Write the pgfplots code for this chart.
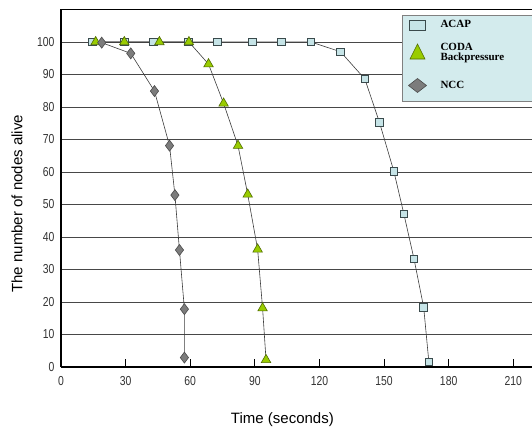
\documentclass[border=0pt]{standalone}
\usepackage{fontspec}
\setmainfont{Liberation Sans}
\newfontfamily\tickfont[FakeStretch=0.8]{Liberation Sans}
\newfontfamily\legfont{Liberation Serif}
\usepackage{pgfplots}
\pgfplotsset{compat=1.18}
\definecolor{sqfill}{HTML}{C6E4E7}
\definecolor{sqedge}{HTML}{3A4A4C}
\definecolor{trifill}{HTML}{99CC00}
\definecolor{triedge}{HTML}{4F6A00}
\definecolor{dmfill}{HTML}{7C7C7C}
\definecolor{dmedge}{HTML}{4A4A4A}
\definecolor{legfill}{HTML}{D3EBED}
\definecolor{linec}{HTML}{3C3C3C}
\begin{document}
\begin{tikzpicture}
\begin{axis}[
  scale only axis, width=471bp, height=357.5bp,
  xmin=0, xmax=218.7, ymin=0, ymax=110,
  axis lines*=left,
  axis line style={-, line width=1.6bp, black},
  xtick={0,30,...,210}, ytick={0,10,...,100},
  tick align=inside,
  major tick length=8bp,
  xtick style={line width=0.9bp, black},
  ytick style={draw=none},
  ymajorgrids,
  grid style={line width=0.9bp, black!72},
  /pgf/number format/assume math mode=true,
  ticklabel style={font=\tickfont\fontsize{13bp}{13bp}\selectfont, text=black!80},
  xticklabel style={yshift=-6bp},
  yticklabel style={xshift=-3bp},
  xlabel={Time (seconds)},
  xlabel style={at={(axis cs:102.8,-16.3)}, anchor=center, font=\fontsize{15bp}{15bp}\selectfont},
  ylabel={The number of nodes alive},
  ylabel style={at={(axis cs:-20.4,50.2)}, anchor=center, font=\fontsize{15bp}{15bp}\selectfont},
  clip=false,
  legend style={at={(rel axis cs:1,0.9846)}, anchor=north east,
    draw=black!50, line width=0.8bp, fill=legfill,
    inner sep=0pt, outer sep=0pt, column sep=0pt, row sep=0pt,
    nodes={inner sep=0pt, draw=none, fill=none},
    font=\legfont\bfseries\fontsize{11bp}{10bp}\selectfont},
  legend cell align=left,
]
\addplot[linec, line width=0.6bp, mark=square*, mark size=3.8bp,
  mark options={fill=sqfill, draw=sqedge, line width=0.8bp},
  legend image code/.code={
    \path[draw=none, fill=none] (-14.7bp,-10bp) rectangle (23bp,10bp);
    \draw[fill=sqfill, draw=sqedge, line width=0.8bp] (-8bp,-5bp) rectangle (8bp,5bp);}]
coordinates {(14.6,100) (29.3,100) (42.9,100) (59.2,100) (72.7,100) (89,100) (102.3,100) (116.1,100) (129.8,97) (141.1,88.6) (147.9,75.2) (154.6,60.1) (159.2,47.1) (163.9,33.3) (168.4,18.4) (170.8,1.6)};
\addlegendentry{\makebox[91.5bp][l]{ACAP}}
\addplot[linec, line width=0.6bp, mark=triangle*, mark size=5.5bp,
  mark options={fill=trifill, draw=triedge, line width=0.6bp},
  legend image code/.code={
    \path[draw=none, fill=none] (-14.7bp,-17.5bp) rectangle (23bp,17.5bp);
    \draw[fill=trifill, draw=triedge, line width=0.6bp] (-7.5bp,-6.5bp) -- (7.5bp,-6.5bp) -- (0bp,8.5bp) -- cycle;}]
coordinates {(16.1,100) (29.4,100) (45.7,100) (59.4,100) (68.5,93.2) (75.5,81.1) (82.2,68.1) (86.7,53.1) (91.3,36.2) (93.6,18.1) (95.2,2.2)};
\addlegendentry{\makebox[91.5bp][l]{\shortstack[l]{CODA\\Backpressure}}}
\addplot[linec, line width=0.6bp, mark=diamond*, mark size=5.5bp,
  mark options={fill=dmfill, draw=dmedge, line width=0.6bp},
  legend image code/.code={
    \path[draw=none, fill=none] (-14.7bp,-15.5bp) rectangle (23bp,15.5bp);
    \draw[fill=dmfill, draw=dmedge, line width=0.6bp] (-9bp,0bp) -- (0bp,7bp) -- (9bp,0bp) -- (0bp,-7bp) -- cycle;}]
coordinates {(18.9,99.8) (32.4,96.5) (43.4,84.9) (50.4,68.1) (52.9,52.9) (55,36) (57.3,17.8) (57.3,2.9)};
\addlegendentry{\makebox[91.5bp][l]{NCC}}
\draw[line width=1.6bp, black] (rel axis cs:0,1) -- (rel axis cs:1,1);
\end{axis}
\pgfresetboundingbox
\path[use as bounding box] (-61bp,-63bp) rectangle (471bp,367bp);
\end{tikzpicture}
\end{document}
